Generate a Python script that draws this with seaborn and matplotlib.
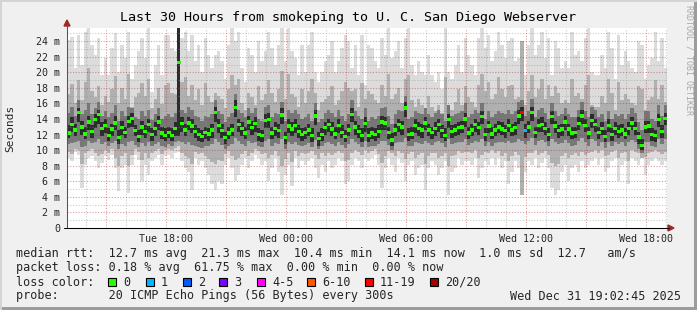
import numpy as np
import pandas as pd
import matplotlib
matplotlib.use("Agg")
import matplotlib.pyplot as plt
import matplotlib.dates as mdates
from matplotlib.patches import Rectangle, Polygon
from matplotlib.lines import Line2D
from matplotlib.path import Path
from matplotlib.ticker import FixedLocator, MultipleLocator
import seaborn as sns

# ---------------- data (milliseconds, 10-minute bins) ----------------
start_time = "2025-12-30 13:04"

median_ms = [
    12.2, 13.3, 12.6, 14.8, 13.0, 12.1, 13.6, 12.4, 13.9, 14.6, 12.8, 13.2, 11.9, 12.7, 13.5, 11.6, 12.9, 12.3, 13.7, 14.1, 12.5, 11.8, 13.0, 12.4, 13.3, 12.0, 12.8, 13.6, 12.2, 11.9,
    12.3, 11.9, 12.8, 21.3, 13.4, 12.6, 13.5, 13.1, 12.4, 12.0, 11.8, 12.3, 12.1, 12.6, 14.8, 13.2, 12.5, 11.6, 12.2, 12.6, 15.5, 13.3, 12.8, 12.2, 13.6, 12.9, 13.4, 12.0, 11.9, 13.8,
    13.9, 12.2, 12.8, 12.5, 14.5, 11.6, 13.1, 12.7, 13.2, 12.4, 12.0, 12.3, 12.6, 11.9, 14.4, 11.5, 12.0, 12.9, 13.3, 12.7, 12.1, 13.2, 12.3, 11.8, 12.6, 14.6, 13.0, 12.4, 11.9, 13.4,
    11.9, 12.2, 12.0, 12.4, 13.6, 13.5, 12.3, 11.3, 12.6, 13.3, 13.0, 15.4, 12.0, 12.1, 13.2, 12.8, 12.6, 13.5, 12.6, 12.3, 12.8, 13.3, 12.5, 11.9, 13.9, 12.4, 12.6, 12.9, 13.0, 14.0,
    12.2, 12.6, 13.3, 12.9, 14.3, 12.0, 13.1, 12.1, 12.6, 13.0, 12.7, 12.5, 13.2, 12.6, 12.9, 14.4, 14.8, 12.5, 13.0, 14.8, 12.3, 13.2, 13.3, 12.8, 12.0, 14.3, 13.1, 12.5, 12.7, 13.6,
    12.7, 12.2, 12.3, 13.4, 14.4, 13.2, 12.2, 13.8, 13.3, 12.3, 12.8, 11.8, 13.2, 12.0, 12.8, 12.4, 12.6, 12.1, 12.8, 13.5, 12.8, 11.7, 10.6, 13.0, 13.1, 12.0, 11.9, 13.9, 12.4, 14.1,
]

max_ms = [
    24.2, 24.6, 20.5, 24.8, 21.0, 25.2, 25.7, 23.5, 22.2, 24.4, 19.7, 21.8, 19.7, 23.1, 25.0, 20.1, 23.5, 21.8, 25.2, 19.2, 21.0, 22.7, 24.4, 21.8, 25.7, 17.5, 21.0, 23.5, 19.7, 24.8,
    24.8, 23.1, 22.7, 25.7, 24.4, 25.2, 22.7, 24.8, 21.4, 23.5, 20.1, 24.4, 22.2, 20.5, 22.2, 22.7, 21.4, 19.2, 23.5, 25.7, 24.0, 25.2, 20.5, 18.8, 23.1, 22.2, 20.1, 24.0, 21.4, 22.7,
    25.2, 23.1, 21.0, 23.5, 25.7, 21.4, 25.7, 22.7, 21.8, 19.7, 23.5, 20.1, 23.5, 25.2, 20.1, 18.8, 20.1, 21.4, 22.2, 24.0, 20.1, 21.4, 23.1, 24.8, 24.0, 20.5, 23.5, 19.7, 24.8, 18.4,
    23.5, 23.1, 21.4, 20.5, 24.4, 22.2, 25.7, 21.8, 22.7, 24.0, 20.5, 24.4, 25.7, 21.0, 19.7, 21.4, 20.1, 19.7, 22.2, 19.7, 18.8, 20.1, 17.9, 25.7, 20.1, 19.2, 21.0, 23.5, 20.1, 24.4,
    22.2, 21.0, 19.7, 24.4, 25.7, 23.1, 24.8, 21.4, 22.7, 25.2, 23.5, 21.8, 24.0, 24.4, 21.4, 21.8, 24.0, 19.7, 23.5, 25.7, 22.2, 23.5, 25.2, 21.8, 24.4, 19.7, 24.0, 23.1, 20.5, 21.4,
    20.5, 25.2, 22.2, 22.7, 21.4, 24.4, 25.7, 20.1, 19.7, 19.7, 22.2, 20.5, 25.2, 23.1, 19.2, 24.8, 21.0, 22.7, 21.4, 20.5, 20.1, 24.0, 23.5, 19.2, 21.0, 21.8, 25.2, 21.4, 24.4, 20.5,
]

min_ms = [
    9.0, 8.6, 9.8, 9.4, 5.1, 8.1, 9.0, 9.2, 8.6, 7.7, 8.4, 9.2, 8.8, 9.4, 7.7, 4.7, 7.7, 8.1, 4.5, 8.1, 9.4, 8.8, 6.0, 8.1, 6.8, 8.6, 9.0, 9.4, 8.1, 9.2,
    9.4, 9.0, 9.6, 9.8, 8.6, 7.7, 7.2, 4.9, 9.0, 8.1, 8.6, 7.7, 6.8, 5.6, 4.9, 6.0, 5.6, 8.1, 9.0, 7.7, 6.0, 6.8, 8.1, 9.0, 7.7, 8.6, 9.4, 9.0, 8.1, 8.6,
    6.0, 7.7, 9.0, 7.2, 4.3, 6.8, 8.1, 5.4, 9.0, 7.7, 8.6, 8.1, 8.6, 9.0, 7.7, 6.4, 8.1, 7.2, 8.6, 7.7, 8.1, 9.0, 8.6, 5.6, 6.0, 8.1, 9.0, 8.6, 7.7, 9.0,
    8.6, 9.0, 9.4, 8.1, 5.1, 7.7, 9.0, 8.1, 7.2, 9.0, 8.4, 6.0, 8.1, 8.6, 6.8, 7.7, 8.1, 4.9, 7.7, 8.6, 8.1, 6.8, 7.7, 8.6, 4.3, 7.2, 7.7, 9.0, 8.1, 8.6,
    8.6, 8.1, 9.0, 6.4, 7.7, 8.6, 8.1, 9.0, 8.1, 9.0, 7.7, 8.6, 5.6, 7.2, 8.6, 7.7, 4.3, 7.2, 8.6, 8.1, 9.0, 7.7, 8.4, 9.0, 7.7, 5.1, 4.3, 4.9, 7.2, 8.1,
    6.0, 7.7, 8.1, 7.2, 8.6, 7.7, 8.1, 8.6, 9.0, 8.1, 9.0, 7.2, 7.7, 8.6, 9.0, 6.0, 8.1, 8.6, 5.6, 9.0, 8.6, 8.1, 9.0, 6.8, 8.1, 8.6, 9.0, 8.6, 8.1, 8.6,
]

mid_hi_ms = [
    17.2, 18.5, 16.0, 19.0, 16.4, 18.8, 20.5, 17.6, 16.8, 18.2, 15.8, 17.0, 16.2, 17.8, 19.5, 16.0, 18.0, 16.6, 19.8, 15.6, 16.8, 17.4, 18.6, 17.0, 19.2, 15.4, 16.6, 18.0, 15.9, 18.4,
    18.6, 17.4, 17.2, 25.7, 18.8, 19.4, 17.0, 18.4, 16.4, 17.8, 15.8, 18.6, 17.0, 16.2, 17.4, 17.0, 16.6, 15.4, 17.8, 19.6, 18.4, 19.2, 16.0, 15.2, 17.4, 16.8, 15.8, 18.2, 16.4, 17.2,
    19.0, 17.4, 16.2, 17.8, 20.2, 16.6, 19.8, 17.2, 16.8, 15.6, 17.8, 16.0, 17.6, 19.2, 17.4, 15.2, 16.2, 16.6, 17.0, 18.2, 15.8, 16.4, 17.6, 18.8, 18.0, 17.6, 17.8, 15.6, 18.6, 16.6,
    17.6, 17.2, 16.4, 16.0, 18.4, 17.0, 19.8, 16.6, 17.2, 18.0, 16.0, 19.2, 19.6, 16.4, 15.6, 16.6, 15.8, 15.4, 17.0, 15.6, 15.0, 15.8, 14.8, 19.4, 15.8, 15.2, 16.2, 17.8, 15.8, 18.2,
    16.8, 16.2, 15.6, 18.4, 19.8, 17.6, 18.8, 16.6, 17.2, 19.4, 17.8, 16.8, 18.2, 18.4, 16.6, 16.8, 24.0, 15.8, 17.6, 19.6, 16.8, 17.8, 19.2, 16.6, 18.4, 17.0, 18.2, 17.4, 16.0, 16.4,
    16.0, 19.2, 17.0, 17.4, 16.6, 18.4, 19.6, 15.8, 15.6, 15.6, 17.0, 16.0, 19.2, 17.4, 15.2, 18.8, 16.4, 17.2, 16.6, 16.0, 15.8, 18.2, 17.8, 15.2, 16.4, 16.8, 19.0, 16.6, 18.4, 16.2,
]

mid_lo_ms = [
    9.8, 9.5, 10.2, 10.0, 8.2, 9.6, 9.9, 10.1, 9.6, 9.2, 9.5, 10.0, 9.7, 10.2, 9.0, 8.0, 9.3, 9.6, 8.0, 9.4, 10.1, 9.8, 8.8, 9.6, 9.0, 9.7, 9.9, 10.2, 9.5, 10.0,
    10.2, 10.0, 10.3, 10.5, 9.7, 9.3, 9.0, 8.2, 9.8, 9.5, 9.7, 9.3, 8.9, 8.5, 8.2, 8.8, 8.6, 9.5, 9.9, 9.3, 8.8, 9.0, 9.5, 9.9, 9.3, 9.7, 10.1, 9.9, 9.5, 9.7,
    9.0, 9.4, 9.9, 9.2, 8.0, 8.9, 9.6, 8.5, 9.9, 9.3, 9.7, 9.5, 9.7, 9.9, 9.4, 8.9, 9.6, 9.2, 9.7, 9.4, 9.6, 9.9, 9.7, 8.6, 8.8, 9.6, 10.0, 9.8, 9.4, 10.0,
    9.6, 9.9, 10.1, 9.5, 8.3, 9.3, 9.9, 9.6, 9.2, 9.9, 9.7, 8.9, 9.5, 9.8, 9.0, 9.4, 9.6, 8.2, 9.3, 9.7, 9.6, 9.0, 9.3, 9.7, 8.0, 9.2, 9.4, 9.9, 9.6, 9.8,
    9.8, 9.6, 10.0, 9.0, 9.4, 9.8, 9.6, 10.0, 9.6, 9.9, 9.3, 9.7, 8.6, 9.2, 9.8, 9.4, 4.3, 9.1, 9.7, 9.6, 10.0, 9.4, 9.7, 9.9, 9.4, 8.4, 8.0, 8.2, 9.2, 9.6,
    9.0, 9.4, 9.6, 9.2, 9.8, 9.4, 9.6, 9.8, 10.0, 9.6, 10.0, 9.2, 9.4, 9.8, 10.0, 9.0, 9.6, 9.8, 8.6, 10.0, 9.8, 9.6, 9.0, 9.1, 9.6, 9.8, 10.0, 9.8, 9.5, 9.8,
]

inner_hi_ms = [
    14.8, 15.6, 14.4, 16.4, 14.6, 15.2, 16.0, 14.6, 15.4, 16.2, 14.4, 15.0, 14.2, 14.8, 15.8, 13.8, 15.0, 14.4, 15.6, 15.4, 14.2, 14.0, 15.0, 14.4, 15.2, 13.9, 14.6, 15.4, 14.0, 14.4,
    14.6, 14.2, 14.8, 25.7, 15.2, 14.8, 15.6, 15.2, 14.4, 14.2, 13.8, 14.4, 14.2, 14.6, 16.4, 15.0, 14.6, 13.6, 14.2, 14.8, 17.2, 15.2, 14.8, 14.2, 15.4, 14.8, 15.4, 14.0, 13.8, 15.6,
    15.8, 14.2, 14.8, 14.6, 16.2, 13.8, 15.2, 14.8, 15.2, 14.6, 14.0, 14.2, 14.6, 13.8, 16.0, 13.6, 14.0, 14.8, 15.2, 14.8, 14.2, 15.2, 14.4, 13.8, 14.6, 16.4, 15.0, 14.4, 14.0, 15.4,
    13.8, 14.2, 14.0, 14.4, 15.4, 15.6, 14.4, 13.4, 14.6, 15.2, 15.0, 17.0, 14.0, 14.2, 15.0, 14.8, 14.6, 15.4, 14.6, 14.2, 14.8, 15.2, 14.6, 13.8, 15.8, 14.4, 14.6, 14.8, 15.0, 16.0,
    14.2, 14.6, 15.2, 14.8, 16.0, 14.0, 15.0, 14.2, 14.6, 15.0, 14.8, 14.6, 15.2, 14.6, 15.0, 16.2, 16.4, 14.4, 15.0, 16.6, 14.2, 15.2, 15.4, 14.8, 14.0, 16.0, 15.0, 14.4, 14.6, 15.4,
    14.6, 14.2, 14.2, 15.2, 16.2, 15.0, 14.2, 15.6, 15.2, 14.2, 14.6, 13.8, 15.0, 14.0, 14.6, 14.4, 14.6, 14.0, 14.6, 15.4, 14.8, 13.6, 12.6, 15.0, 15.0, 14.0, 13.8, 15.8, 14.4, 15.8,
]

inner_lo_ms = [
    10.8, 10.9, 11.1, 11.2, 10.4, 10.6, 11.2, 10.9, 11.0, 11.4, 10.8, 11.0, 10.5, 10.9, 11.2, 10.2, 10.8, 10.6, 11.0, 11.2, 10.7, 10.4, 10.9, 10.6, 11.0, 10.5, 10.8, 11.1, 10.6, 10.4,
    10.8, 10.6, 11.0, 11.2, 11.0, 10.8, 11.1, 10.7, 10.6, 10.4, 10.3, 10.6, 10.5, 10.8, 11.4, 11.0, 10.7, 10.2, 10.6, 10.8, 11.6, 11.2, 10.8, 10.6, 11.2, 10.9, 11.1, 10.5, 10.4, 11.2,
    11.4, 10.6, 10.9, 10.8, 11.4, 10.2, 11.0, 10.8, 11.0, 10.7, 10.5, 10.7, 10.9, 10.4, 11.3, 10.1, 10.5, 10.9, 11.1, 10.8, 10.6, 11.0, 10.7, 10.3, 10.8, 11.4, 11.0, 10.8, 10.4, 11.2,
    10.4, 10.6, 10.5, 10.8, 11.2, 11.2, 10.7, 10.0, 10.9, 11.1, 11.0, 11.6, 10.5, 10.6, 11.1, 10.9, 10.8, 11.2, 10.9, 10.7, 11.0, 11.2, 10.9, 10.4, 11.4, 10.8, 10.9, 11.0, 11.1, 11.5,
    10.7, 10.9, 11.2, 11.0, 11.4, 10.5, 11.1, 10.6, 10.9, 11.1, 11.0, 10.9, 11.2, 10.9, 11.1, 11.5, 11.2, 10.8, 11.2, 11.6, 10.7, 11.2, 11.3, 11.0, 10.5, 11.4, 11.1, 10.8, 10.9, 11.3,
    10.9, 10.6, 10.7, 11.2, 11.6, 11.1, 10.6, 11.4, 11.2, 10.6, 11.0, 10.3, 11.1, 10.5, 11.0, 10.8, 11.0, 10.6, 11.0, 11.3, 11.0, 10.2, 9.6, 11.1, 11.1, 10.5, 10.4, 11.5, 10.8, 11.4,
]

core_hi_ms = [
    13.2, 14.2, 13.4, 15.4, 13.8, 13.0, 14.4, 13.2, 14.6, 15.2, 13.6, 14.0, 12.8, 13.4, 14.4, 12.6, 13.8, 13.0, 14.4, 14.8, 13.2, 12.6, 13.8, 13.2, 14.0, 12.8, 13.6, 14.4, 13.0, 12.8,
    13.0, 12.8, 13.6, 25.7, 14.2, 13.4, 14.2, 14.0, 13.2, 12.8, 12.6, 13.0, 12.8, 13.4, 15.6, 14.0, 13.4, 12.4, 13.0, 13.4, 16.4, 14.0, 13.6, 13.0, 14.4, 13.8, 14.2, 12.8, 12.6, 14.6,
    14.8, 13.0, 13.6, 13.4, 15.4, 12.4, 14.0, 13.6, 14.0, 13.2, 12.8, 13.0, 13.4, 12.8, 15.2, 12.4, 12.8, 13.6, 14.0, 13.6, 13.0, 14.0, 13.2, 12.6, 13.4, 15.4, 13.8, 13.2, 12.8, 14.2,
    12.8, 13.0, 12.8, 13.2, 14.4, 14.2, 13.0, 12.2, 13.4, 14.0, 13.8, 16.2, 12.8, 13.0, 14.0, 13.6, 13.4, 14.2, 13.4, 13.0, 13.6, 14.0, 13.2, 12.8, 14.6, 13.2, 13.4, 13.6, 13.8, 14.8,
    13.0, 13.4, 14.0, 13.6, 15.0, 12.8, 13.8, 13.0, 13.4, 13.8, 13.6, 13.2, 14.0, 13.4, 13.6, 15.2, 15.6, 13.4, 13.8, 15.6, 13.0, 14.0, 14.2, 13.6, 12.8, 15.0, 13.8, 13.2, 13.4, 14.4,
    13.4, 13.0, 13.0, 14.2, 15.2, 14.0, 13.0, 14.6, 14.0, 13.0, 13.6, 12.6, 14.0, 12.8, 13.6, 13.2, 13.4, 12.8, 13.6, 14.2, 13.6, 12.4, 11.4, 13.8, 13.8, 12.8, 12.6, 14.6, 13.2, 14.8,
]

core_lo_ms = [
    11.6, 12.4, 11.8, 13.6, 12.0, 11.4, 12.6, 11.6, 12.8, 13.4, 11.8, 12.2, 11.2, 11.8, 12.6, 10.8, 12.0, 11.6, 12.8, 13.0, 11.8, 11.0, 12.0, 11.6, 12.4, 11.2, 11.8, 12.6, 11.4, 11.2,
    11.6, 11.2, 11.8, 11.8, 12.4, 11.8, 12.6, 12.2, 11.6, 11.2, 11.0, 11.4, 11.2, 11.6, 13.6, 12.2, 11.6, 10.8, 11.4, 11.8, 14.2, 12.4, 11.8, 11.4, 12.6, 12.0, 12.4, 11.2, 11.0, 12.8,
    12.8, 11.4, 11.8, 11.6, 13.4, 10.8, 12.2, 11.8, 12.2, 11.6, 11.2, 11.4, 11.8, 11.0, 13.2, 10.6, 11.2, 12.0, 12.4, 11.8, 11.4, 12.2, 11.6, 11.0, 11.8, 13.6, 12.0, 11.6, 11.0, 12.4,
    11.0, 11.4, 11.2, 11.6, 12.6, 12.6, 11.4, 10.6, 11.8, 12.4, 12.0, 14.2, 11.2, 11.4, 12.2, 11.8, 11.6, 12.6, 11.8, 11.4, 11.8, 12.4, 11.6, 11.2, 12.8, 11.6, 11.8, 12.0, 12.2, 13.0,
    11.4, 11.8, 12.4, 12.0, 13.4, 11.2, 12.2, 11.4, 11.8, 12.2, 12.0, 11.6, 12.4, 11.8, 12.0, 13.4, 13.8, 11.6, 12.2, 13.8, 11.6, 12.4, 12.4, 12.0, 11.2, 13.4, 12.2, 11.6, 11.8, 12.6,
    11.8, 11.4, 11.6, 12.6, 13.4, 12.4, 11.4, 12.8, 12.4, 11.4, 12.0, 11.0, 12.4, 11.2, 12.0, 11.6, 11.8, 11.4, 12.0, 12.6, 12.0, 10.8, 10.0, 12.2, 12.2, 11.2, 11.0, 13.0, 11.6, 13.2,
]

# pings lost (of 20) per bin
loss_count = [0] * 136 + [13, 1] + [0] * 42

loss_labels = ["0", "1", "2", "3", "4-5", "6-10", "11-19", "20/20"]
loss_upper = [0, 1, 2, 3, 5, 10, 19, 20]
loss_colors = ["#26ff00", "#00b8ff", "#0059ff", "#7e00ff", "#ff00ff", "#ff5500", "#ff0000", "#a10000"]

ytick_values = [0, 2, 4, 6, 8, 10, 12, 14, 16, 18, 20, 22, 24]
ytick_labels = ["0", "2 m", "4 m", "6 m", "8 m", "10 m", "12 m", "14 m", "16 m", "18 m", "20 m", "22 m", "24 m"]
xtick_labels = ["Tue 18:00", "Wed 00:00", "Wed 06:00", "Wed 12:00", "Wed 18:00"]

title = "Last 30 Hours from smokeping to U. C. San Diego Webserver"
legend_lines = [
    "median rtt:  12.7 ms avg  21.3 ms max  10.4 ms min  14.1 ms now  1.0 ms sd  12.7   am/s",
    "packet loss: 0.18 % avg  61.75 % max  0.00 % min  0.00 % now",
    "loss color:",
    "probe:       20 ICMP Echo Pings (56 Bytes) every 300s",
]
stamp = "Wed Dec 31 19:02:45 2025"

# ---------------- figure ----------------
sns.set_style("white")
plt.rcParams["font.family"] = ["DejaVu Sans Mono", "DejaVu Sans"]

W, H = 697, 310
def fx(x): return x / W
def fy(y): return 1 - y / H

fig = plt.figure(figsize=(W / 100, H / 100), dpi=100, facecolor="#f0f0f0")
ax = fig.add_axes([fx(67), fy(228), 600 / W, 200 / H])
ax.set_facecolor("white")

n = len(median_ms)
edges = pd.date_range(start_time, periods=n + 1, freq="10min")
centers = edges[:-1] + pd.Timedelta(minutes=5)

def ext(a):
    a = list(a)
    return a + a[-1:]

bands = [
    (min_ms, max_ms, "#dcdcdc"),
    (mid_lo_ms, mid_hi_ms, "#b0b0b0"),
    (inner_lo_ms, inner_hi_ms, "#777777"),
    (core_lo_ms, core_hi_ms, "#2c2c2c"),
]
for lo, hi, col in bands:
    ax.fill_between(edges, ext(lo), ext(hi), step="post", color=col, lw=0, zorder=1)

def loss_class(c):
    for lab, up in zip(loss_labels, loss_upper):
        if c <= up:
            return lab
    return loss_labels[-1]

df = pd.DataFrame({"time": centers, "median": median_ms,
                   "loss": [loss_class(c) for c in loss_count]})
rect = Path([(-1, -0.85), (1, -0.85), (1, 0.85), (-1, 0.85), (-1, -0.85)])
sns.scatterplot(data=df, x="time", y="median", hue="loss",
                palette=dict(zip(loss_labels, loss_colors)), marker=rect,
                s=8, linewidth=0, legend=False, ax=ax, zorder=4)

ax.set_xlim(edges[0], edges[-1])
ax.set_ylim(0, 25.7)
ax.set_xlabel("")
ax.set_ylabel("")

# x ticks: red grid every 3 h, grey every hour
major_times = pd.date_range("2025-12-30 15:00", "2025-12-31 18:00", freq="3h")
ax.xaxis.set_major_locator(FixedLocator(mdates.date2num(major_times)))
lab_iter = iter(xtick_labels)
ax.set_xticklabels([next(lab_iter) if t.hour % 6 == 0 else "" for t in major_times])
ax.xaxis.set_minor_locator(mdates.HourLocator())

ax.set_yticks(ytick_values)
ax.set_yticklabels(ytick_labels)
ax.yaxis.set_minor_locator(MultipleLocator(1))

ax.grid(True, which="major", color="#b02828", alpha=0.45, lw=0.8, ls=(0, (1, 1.5)))
ax.grid(True, which="minor", color="#8c8c8c", alpha=0.45, lw=0.8, ls=(0, (1, 1.5)))
ax.set_axisbelow(False)
ax.tick_params(which="both", length=0)
ax.tick_params(axis="x", labelsize=7.2, pad=4)
ax.tick_params(axis="y", labelsize=7.2, pad=5)
for s in ax.spines.values():
    s.set_visible(False)

# axes lines and arrows
arrow_col = "#a02828"
fig.add_artist(Line2D([fx(67), fx(67)], [fy(228), fy(25)], color="#555555", lw=0.75, transform=fig.transFigure))
fig.add_artist(Line2D([fx(64), fx(669)], [fy(228), fy(228)], color="black", lw=0.75, transform=fig.transFigure))
fig.add_artist(Polygon([[fx(64), fy(26)], [fx(70), fy(26)], [fx(67), fy(20)]], closed=True,
                       color=arrow_col, transform=fig.transFigure))
fig.add_artist(Polygon([[fx(668), fy(225)], [fx(668), fy(231)], [fx(674), fy(228)]], closed=True,
                       color=arrow_col, transform=fig.transFigure))

# texts
fig.text(fx(348), fy(18), title, ha="center", va="center", fontsize=9.6, color="black")
fig.text(fx(10), fy(128), "Seconds", ha="center", va="center", rotation=90, fontsize=8)
fig.text(fx(689), fy(5), "RRDTOOL / TOBI OETIKER", ha="center", va="top", rotation=270,
         fontsize=6, color="#a8a8a8")

line_y = [254, 268, 282, 296]
for txt, y in zip(legend_lines, line_y):
    fig.text(fx(16), fy(y), txt, ha="left", va="center", fontsize=8.47)
fig.text(fx(681), fy(296), stamp, ha="right", va="center", fontsize=8.47)

sq_x = [108, 146, 183, 219, 257, 307, 365, 430]
for x0, lab, col in zip(sq_x, loss_labels, loss_colors):
    fig.add_artist(Rectangle((fx(x0), fy(286)), 8 / W, 8 / H, facecolor=col, edgecolor="black",
                             lw=0.8, transform=fig.transFigure))
    fig.text(fx(x0 + 15), fy(282), lab, ha="left", va="center", fontsize=8.47)

# frame
fig.add_artist(Rectangle((0, 0), 1, 3 / H, color="#9c9c9c", transform=fig.transFigure, lw=0))
fig.add_artist(Rectangle((1 - 3 / W, 0), 3 / W, 1, color="#9c9c9c", transform=fig.transFigure, lw=0))
fig.add_artist(Rectangle((0, 1 - 2 / H), 1, 2 / H, color="#d4d4d4", transform=fig.transFigure, lw=0))
fig.add_artist(Rectangle((0, 0), 2 / W, 1, color="#d4d4d4", transform=fig.transFigure, lw=0))

fig.savefig("out.png", dpi=100, facecolor=fig.get_facecolor())
